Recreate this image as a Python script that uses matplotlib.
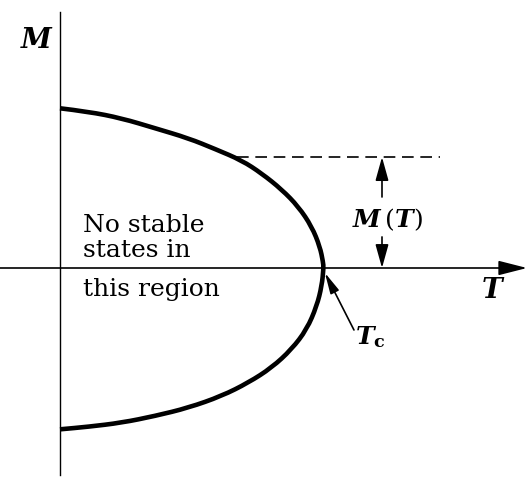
import matplotlib
matplotlib.use("Agg")
import matplotlib.pyplot as plt
from matplotlib.path import Path
from matplotlib.patches import PathPatch

plt.rcParams["mathtext.fontset"] = "custom"
plt.rcParams["mathtext.it"] = "DejaVu Serif:italic:bold"
plt.rcParams["mathtext.bf"] = "DejaVu Serif:bold"
plt.rcParams["mathtext.rm"] = "DejaVu Serif"

# Temperature in units of Tc, magnetisation in units of M(0)
t_upper = [0.0, 0.108, 0.235, 0.363, 0.490, 0.592, 0.694, 0.770, 0.846,
           0.910, 0.961, 0.992, 1.004, 1.006]
m_upper = [0.992, 0.971, 0.930, 0.868, 0.806, 0.739, 0.668, 0.587, 0.488,
           0.381, 0.257, 0.132, 0.037, 0.0]
t_lower = [1.006, 0.999, 0.980, 0.942, 0.884, 0.808, 0.719, 0.617, 0.490,
           0.363, 0.235, 0.108, 0.0]
m_lower = [0.0, -0.112, -0.236, -0.381, -0.505, -0.619, -0.712, -0.795,
           -0.868, -0.919, -0.961, -0.986, -1.002]

# Reference magnetisation marked by the dashed line and the M(T) arrows
t_mark = 0.675
m_mark = 0.689
t_arrow = 1.229

serif = "DejaVu Serif"


def smooth_path(xs, ys):
    """Quadratic B-spline path using the given points as control points."""
    pts = list(zip(xs, ys))
    verts = [pts[0]]
    codes = [Path.MOVETO]
    for i in range(1, len(pts) - 1):
        mid = ((pts[i][0] + pts[i + 1][0]) / 2, (pts[i][1] + pts[i + 1][1]) / 2)
        verts += [pts[i], mid]
        codes += [Path.CURVE3, Path.CURVE3]
    verts.append(pts[-1])
    codes.append(Path.LINETO)
    return Path(verts, codes)


fig = plt.figure(figsize=(5.27, 4.78), dpi=100)
ax = fig.add_axes([0, 0, 1, 1])
ax.set_xlim(-60 / 262, 467 / 262)
ax.set_ylim(-210 / 161, 268 / 161)
ax.axis("off")

# axes
ax.plot([0, 0], [256 / 161, -207 / 161], color="black", lw=1.0)
ax.annotate("", xy=(467 / 262, 0), xytext=(-60 / 262, 0),
            arrowprops=dict(arrowstyle="-|>,head_length=1.1,head_width=0.28",
                            color="black", lw=1.2, mutation_scale=16,
                            shrinkA=0, shrinkB=0))

# coexistence curve, drawn as one stroke through Tc
curve = smooth_path(t_upper + t_lower[1:], m_upper + m_lower[1:])
ax.add_patch(PathPatch(curve, facecolor="none", edgecolor="black", lw=3.3,
                       capstyle="butt", joinstyle="round"))

# dashed level of M(T)
ax.plot([t_mark, 1.45], [m_mark, m_mark], color="black", lw=1.2,
        dashes=(7, 4))

arrow_kw = dict(arrowstyle="-|>,head_length=0.9,head_width=0.25",
                color="black", lw=1.2, mutation_scale=16, shrinkA=0, shrinkB=0)
ax.annotate("", xy=(t_arrow, m_mark), xytext=(t_arrow, 0.441), arrowprops=arrow_kw)
ax.annotate("", xy=(t_arrow, 0), xytext=(t_arrow, 0.193), arrowprops=arrow_kw)
ax.text(t_arrow + 0.02, 0.30, r"$M\,(T)$", fontsize=18,
        ha="center", va="center")

# Tc pointer
ax.annotate("", xy=(1.011, -0.03), xytext=(1.122, -0.385),
            arrowprops=dict(arrowstyle="-|>,head_length=0.9,head_width=0.2",
                            color="black", lw=1.2, mutation_scale=14,
                            shrinkA=0, shrinkB=0))
ax.text(1.126, -0.475, r"$T_{\mathbf{c}}$", fontsize=18,
        ha="left", va="baseline")

# axis labels
ax.text(-0.092, 1.41, "M", family=serif, style="italic", weight="bold",
        fontsize=20, ha="center", va="center")
ax.text(1.649, -0.14, "T", family=serif, style="italic", weight="bold",
        fontsize=20, ha="center", va="center")

# region note
note_kw = dict(family=serif, fontsize=18, ha="left", va="baseline")
ax.text(0.088, (268 - 232) / 161, "No stable", **note_kw)
ax.text(0.088, (268 - 257) / 161, "states in", **note_kw)
ax.text(0.088, (268 - 296) / 161, "this region", **note_kw)

fig.savefig("out.png", dpi=100)
